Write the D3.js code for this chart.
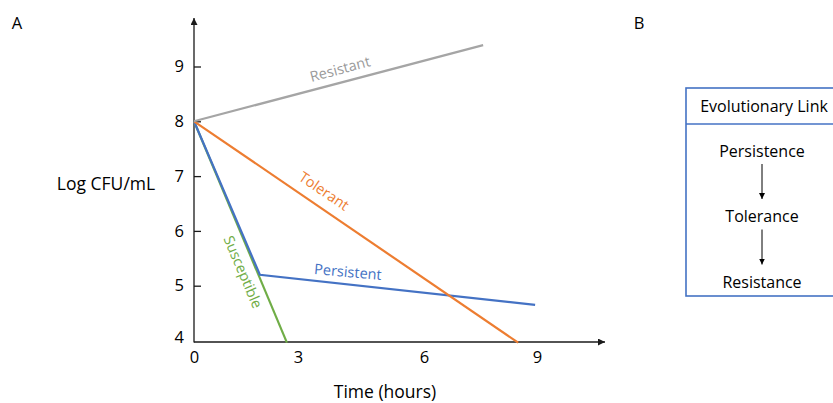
<!DOCTYPE html>
<html>
<head>
<meta charset="utf-8">
<script src="https://cdn.jsdelivr.net/npm/d3@7"></script>
<style>
  body { margin: 0; background: #fff; }
  svg, svg text { font-family: "Open Sans", "Noto Sans", sans-serif; }
</style>
</head>
<body>
<script>
// values (hours, log CFU/mL)
const xTicks = [0, 3, 6, 9]
const yTicks = [4, 5, 6, 7, 8, 9]
const susceptible = [[0, 8], [2.68, 3.96]]
const persistent = [[0, 8], [1.9, 5.2], [8.95, 4.65]]
const tolerant = [[0, 8], [8.5, 3.96]]
const resistant = [[0, 8], [7.57, 9.39]]
const steps = ['Persistence', 'Tolerance', 'Resistance']

const W = 833, H = 403

const svg = d3.select('body').append('svg')
    .attr('width', W)
    .attr('height', H)

// tick labels in the source are not evenly spaced, so the scale follows them
const x = d3.scaleLinear()
    .domain(xTicks)
    .range([194, 298, 424, 537])

const y = d3.scaleLinear()
    .domain([4, 9])
    .range([340.5, 66.5])

const axisColor = '#1a1a1a'

svg.append('defs').append('marker')
    .attr('id', 'arrow')
    .attr('viewBox', '0 0 10 10')
    .attr('refX', 10).attr('refY', 5)
    .attr('markerWidth', 7).attr('markerHeight', 7)
    .attr('markerUnits', 'userSpaceOnUse')
    .attr('orient', 'auto')
    .append('path')
    .attr('d', 'M0,0L10,5L0,10z')
    .attr('fill', axisColor)

svg.append('defs').append('marker')
    .attr('id', 'arrowSmall')
    .attr('viewBox', '0 0 10 10')
    .attr('refX', 10).attr('refY', 5)
    .attr('markerWidth', 6).attr('markerHeight', 7)
    .attr('markerUnits', 'userSpaceOnUse')
    .attr('orient', 'auto')
    .append('path')
    .attr('d', 'M0,0L10,5L0,10z')
    .attr('fill', '#000')

// axes
const yAxis = svg.append('g')
    .attr('transform', `translate(${x(0)},0)`)
    .call(d3.axisLeft(y).tickValues(yTicks).tickFormat(d3.format('d')).tickSize(-7).tickPadding(10))
    .attr('font-family', null)
yAxis.select('.domain').remove()
yAxis.selectAll('.tick line').attr('stroke', axisColor).attr('stroke-width', 1.3)
yAxis.selectAll('.tick').filter(d => d === 4).select('line').remove()
yAxis.selectAll('.tick').filter(d => d === 4).select('text').attr('dy', '0.1em')
yAxis.selectAll('text').attr('font-size', 16.5).attr('fill', '#000')

const xAxis = svg.append('g')
    .attr('transform', `translate(0,342)`)
    .call(d3.axisBottom(x).tickValues(xTicks).tickFormat(d3.format('d')).tickSize(0).tickPadding(9))
    .attr('font-family', null)
xAxis.select('.domain').remove()
xAxis.selectAll('text').attr('font-size', 16.5).attr('fill', '#000')

svg.append('line')
    .attr('x1', x(0)).attr('y1', 342.5)
    .attr('x2', x(0)).attr('y2', 18)
    .attr('stroke', axisColor).attr('stroke-width', 1.3)
    .attr('marker-end', 'url(#arrow)')

svg.append('line')
    .attr('x1', x(0)).attr('y1', 342)
    .attr('x2', 605).attr('y2', 342)
    .attr('stroke', axisColor).attr('stroke-width', 1.3)
    .attr('marker-end', 'url(#arrow)')

// series
const line = d3.line()
    .x(d => x(d[0]))
    .y(d => y(d[1]))

const series = [
    { data: susceptible, color: '#70ad47' },
    { data: persistent, color: '#4472c4' },
    { data: tolerant, color: '#ed7d31' },
    { data: resistant, color: '#a5a5a5' }
]

svg.selectAll('path.series')
    .data(series)
    .enter().append('path')
    .attr('class', 'series')
    .attr('d', d => line(d.data))
    .attr('fill', 'none')
    .attr('stroke', d => d.color)
    .attr('stroke-width', 2.2)

// series labels
const labels = [
    { text: 'Resistant', x: 340, y: 69, rot: -15, color: '#9a9a9a' },
    { text: 'Tolerant', x: 324, y: 191, rot: 34, color: '#ed7d31' },
    { text: 'Persistent', x: 348, y: 272, rot: 5, color: '#4472c4' },
    { text: 'Susceptible', x: 243, y: 272, rot: 67, color: '#70ad47' }
]

svg.selectAll('text.label')
    .data(labels)
    .enter().append('text')
    .attr('class', 'label')
    .attr('transform', d => `translate(${d.x},${d.y}) rotate(${d.rot})`)
    .attr('text-anchor', 'middle')
    .attr('dy', '0.35em')
    .attr('font-size', 14.5)
    .attr('fill', d => d.color)
    .text(d => d.text)

// axis titles and panel letters
svg.append('text')
    .attr('x', 106).attr('y', 184)
    .attr('text-anchor', 'middle').attr('dy', '0.35em')
    .attr('font-size', 17.5)
    .text('Log CFU/mL')

svg.append('text')
    .attr('x', 385).attr('y', 392)
    .attr('text-anchor', 'middle').attr('dy', '0.35em')
    .attr('font-size', 17.5)
    .text('Time (hours)')

svg.append('text')
    .attr('x', 17).attr('y', 23)
    .attr('text-anchor', 'middle').attr('dy', '0.35em')
    .attr('font-size', 16.5)
    .text('A')

svg.append('text')
    .attr('x', 639).attr('y', 23)
    .attr('text-anchor', 'middle').attr('dy', '0.35em')
    .attr('font-size', 16.5)
    .text('B')

// panel B box
const box = svg.append('g')
const boxColor = '#4472c4'

box.append('rect')
    .attr('x', 686).attr('y', 88)
    .attr('width', 170).attr('height', 208)
    .attr('fill', 'none')
    .attr('stroke', boxColor).attr('stroke-width', 1.6)

box.append('line')
    .attr('x1', 686).attr('y1', 124)
    .attr('x2', 833).attr('y2', 124)
    .attr('stroke', boxColor).attr('stroke-width', 1.6)

box.append('text')
    .attr('x', 764).attr('y', 106)
    .attr('text-anchor', 'middle').attr('dy', '0.35em')
    .attr('font-size', 16)
    .text('Evolutionary Link')

const stepY = d3.scalePoint()
    .domain(steps)
    .range([151, 282])

box.selectAll('text.step')
    .data(steps)
    .enter().append('text')
    .attr('class', 'step')
    .attr('x', 762)
    .attr('y', d => stepY(d))
    .attr('text-anchor', 'middle').attr('dy', '0.35em')
    .attr('font-size', 16)
    .text(d => d)

box.selectAll('line.step')
    .data(steps.slice(0, -1))
    .enter().append('line')
    .attr('class', 'step')
    .attr('x1', 762).attr('x2', 762)
    .attr('y1', d => stepY(d) + 13)
    .attr('y2', d => stepY(d) + 48)
    .attr('stroke', '#000').attr('stroke-width', 1)
    .attr('marker-end', 'url(#arrowSmall)')
</script>
</body>
</html>
